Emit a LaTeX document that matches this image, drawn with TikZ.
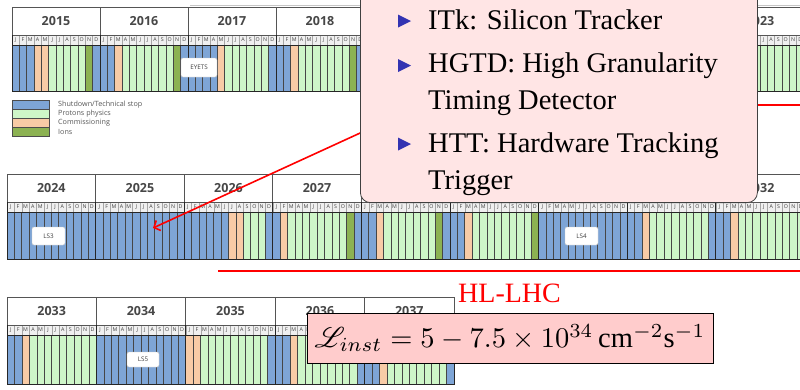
\documentclass[tikz,border=0pt]{standalone}
\usepackage{fontspec}
\usepackage{mathrsfs}
\usepackage{graphicx}
\setmainfont{Liberation Serif}
\setsansfont{Open Sans}
\usetikzlibrary{positioning,arrows.meta}

\definecolor{schedS}{RGB}{126,165,214}
\definecolor{schedP}{RGB}{206,246,200}
\definecolor{schedC}{RGB}{248,203,166}
\definecolor{schedI}{RGB}{140,178,82}
\definecolor{gridgray}{RGB}{85,85,85}
\definecolor{devpink}{RGB}{255,229,229}
\definecolor{lumipink}{RGB}{255,204,204}
\definecolor{bulletblue}{RGB}{51,51,178}

\tikzset{
  yearcell/.style={draw=gridgray, fill=white, line width=0.7pt, inner sep=0pt,
    minimum height=28, font=\sffamily\bfseries\fontsize{12.5}{12.5}\selectfont, text=black!72},
  monthcell/.style={draw=gray!70, fill=gray!12, line width=0.4pt, inner sep=0pt,
    minimum height=10, font=\sffamily\fontsize{5.3}{5.3}\selectfont, text=black!75},
  monthline/.style={gray!55!black, line width=0.6pt},
  yearline/.style={black!85, line width=0.9pt},
  stoplabel/.style={draw=gray!45, fill=white, rounded corners=2pt, inner sep=0pt,
    font=\sffamily\fontsize{6.3}{6.3}\selectfont, text=black!75},
  legendtext/.style={anchor=west, inner sep=0pt, font=\sffamily\fontsize{7.2}{7.2}\selectfont, text=black!65},
  devbox/.style={draw=black!75, fill=devpink, line width=0.8pt, rounded corners=10pt},
  itemtext/.style={anchor=base west, inner sep=0pt, align=left, font=\fontsize{28.5}{37}\selectfont},
  redarrow/.style={red, line width=1.6pt, -{Straight Barb[length=5pt,width=11pt]}},
  redline/.style={red, line width=1.8pt},
  lumibox/.style={draw=black, fill=lumipink, line width=0.6pt, minimum width=406, minimum height=50,
    inner sep=0pt}
}

% one row of the schedule: left, header top, year width, bar bottom, number of years, years
\newcommand{\schedrow}[6]{%
  \foreach \yr/\lab/\cols [count=\i from 0] in {#6}{
    \pgfmathsetmacro{\xl}{#1+\i*#3}
    \pgfmathsetmacro{\mw}{#3/12}
    \foreach \c [count=\m from 0] in \cols
      \fill[sched\c] ({\xl+\m*\mw},#2+38) rectangle ({\xl+(\m+1)*\mw},#4);
    \foreach \mon [count=\m from 0] in {J,F,M,A,M,J,J,A,S,O,N,D}
      \node[monthcell, minimum width=\mw] at ({\xl+(\m+0.5)*\mw},#2+33) {\mon};
    \foreach \m in {1,...,11}
      \draw[monthline] ({\xl+\m*\mw},#2+38) -- ({\xl+\m*\mw},#4);
    \node[yearcell, minimum width=#3] (hd-\yr) at ({\xl+#3/2},#2+14) {\lab};
    \draw[yearline] (\xl,#2+28) -- (\xl,#4);
  }
  \draw[yearline] (#1,#2+38) rectangle ({#1+#5*#3},#4);
}

\begin{document}
\begin{tikzpicture}[x=1pt,y=-1pt]
\useasboundingbox (0,0) rectangle (800,389);
\fill[white] (0,0) rectangle (800,389);

\draw[gray!45] (190,5) -- (800,5);

% Run 2
\schedrow{12}{7}{88}{91}{9}{%
  2015/2015/{S,S,S,C,C,P,P,P,P,P,I,S},
  2016/2016/{S,S,C,P,P,P,P,P,P,P,I,S},
  2017/2017/{S,S,S,S,C,P,P,P,P,P,P,S},
  2018/2018/{S,S,C,P,P,P,P,P,P,P,I,S},
  2019/{}/{S,S,S,S,S,S,S,S,S,S,S,S},
  2020/{}/{S,S,S,S,S,S,S,S,S,S,S,S},
  2021/{}/{S,S,S,S,S,S,S,S,C,C,P,S},
  2022/{}/{S,S,C,P,P,P,P,P,P,P,I,S},
  2023/2023/{S,S,C,P,P,P,P,P,P,P,P,P}}

% legend
\foreach \col/\txt [count=\k from 0] in {S/{Shutdown/Technical stop}, P/{Protons physics}, C/{Commissioning}, I/{Ions}}{
  \draw[gray!60!black, fill=sched\col, line width=0.5pt] (12,{100+9*\k}) rectangle (49,{109+9*\k});
  \node[legendtext] (lg-\k) at (58,{104.5+9*\k}) {\txt};
}

% Run 4 and Run 5
\schedrow{7}{174}{88.6}{259}{9}{%
  2024/2024/{S,S,S,S,S,S,S,S,S,S,S,S},
  2025/2025/{S,S,S,S,S,S,S,S,S,S,S,S},
  2026/2026/{S,S,S,S,S,S,C,C,P,P,P,S},
  2027/2027/{S,C,P,P,P,P,P,P,P,P,I,S},
  2028/{}/{S,S,C,P,P,P,P,P,P,P,I,S},
  2029/{}/{S,S,C,P,P,P,P,P,P,P,P,I},
  2030/{}/{S,S,S,S,S,S,S,S,S,S,S,S},
  2031/{}/{S,S,C,P,P,P,P,P,P,P,P,S},
  2032/2032/{S,S,C,P,P,P,P,P,P,P,P,P}}

\schedrow{7}{297}{89.4}{384}{5}{%
  2033/2033/{S,S,C,P,P,P,P,P,P,P,P,P},
  2034/2034/{S,S,S,S,S,S,S,S,S,S,S,S},
  2035/2035/{C,C,P,P,P,P,P,P,P,P,P,S},
  2036/2036/{S,S,C,P,P,P,P,P,P,P,P,S},
  2037/2037/{S,S,C,P,P,P,P,P,P,P,P,S}}

% long shutdowns
\node[stoplabel, minimum width=36, minimum height=19] (eyets) at (199,67.5) {EYETS};
\node[stoplabel, minimum width=33, minimum height=18] (ls3) at (48.5,236) {LS3};
\node[stoplabel, minimum width=33, minimum height=18] (ls4) at (581.5,236) {LS4};
\node[stoplabel, minimum width=32, minimum height=15] (ls5) at (143,359.5) {LS5};

% red marks
\coordinate (arrowtail) at (382,123);
\coordinate (arrowtip) at (153,228);
\draw[redarrow] (arrowtail) -- (arrowtip);
\coordinate (runline) at (700,105);
\coordinate (runend) at (800,105);
\draw[redline] (runline) -- (runend);
\coordinate (hlstart) at (218,271);
\coordinate (hlend) at (800,271);
\draw[redline] (hlstart) -- (hlend);

% upgrades
\node[devbox, anchor=south west, minimum width=397, minimum height=240] (devbox) at (360,203) {};
\foreach \ty in {21,65.5,144}
  \fill[bulletblue] (398,\ty-6.5) -- (411,\ty) -- (398,\ty+6.5) -- cycle;
\node[itemtext] (itk) at (428,29) {ITk: Silicon Tracker};
\node[itemtext] (hgtd) at (428,109) {HGTD: High Granularity\\Timing Detector};
\node[itemtext] (htt) at (428,189) {HTT: Hardware Tracking\\Trigger};

\node[anchor=base west, inner sep=0pt, text=red, font=\fontsize{28}{28}\selectfont] (hllhc) at (458,302) {HL-LHC};

\node[lumibox] (lumi) at (510,338) {\scalebox{2.85}{$\mathscr{L}_{inst} = 5 - 7.5\times 10^{34}\,\mathrm{cm}^{-2}\mathrm{s}^{-1}$}};

\end{tikzpicture}
\end{document}
